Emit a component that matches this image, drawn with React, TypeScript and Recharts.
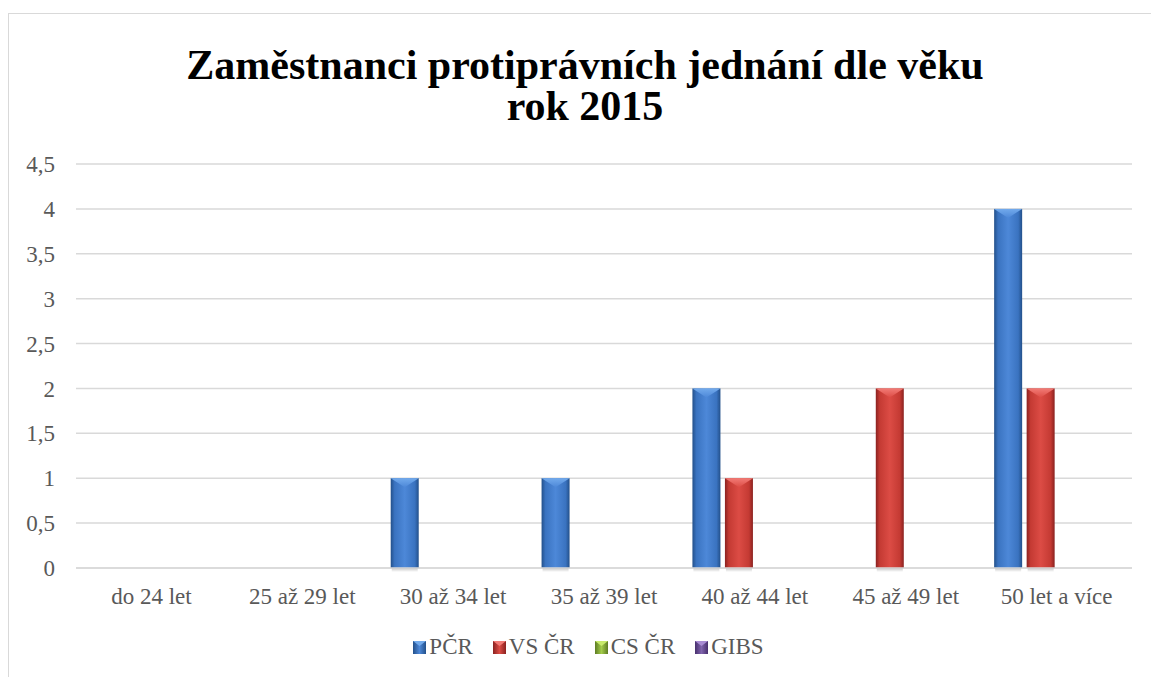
import React from "react";
import { BarChart, Bar, XAxis, YAxis, CartesianGrid, Legend } from "recharts";

const categories = [
  "do 24 let",
  "25 až 29 let",
  "30 až 34 let",
  "35 až 39 let",
  "40 až 44 let",
  "45 až 49 let",
  "50 let a více",
];
const pcr = [0, 0, 1, 1, 2, 0, 4];
const vsCr = [0, 0, 0, 0, 1, 2, 2];
const csCr = [0, 0, 0, 0, 0, 0, 0];
const gibs = [0, 0, 0, 0, 0, 0, 0];
const yTicks = [0, 0.5, 1, 1.5, 2, 2.5, 3, 3.5, 4, 4.5];

const data = categories.map((name, i) => ({
  name,
  pcr: pcr[i],
  vs: vsCr[i],
  cs: csCr[i],
  gibs: gibs[i],
}));

const FONT = '"Liberation Serif", "Times New Roman", serif';
const TEXT = "#595959";

const series = [
  { key: "pcr", name: "PČR", dark: "#23508a", mid: "#3a73c0", light: "#4d88d8", top: "#72aaec" },
  { key: "vs", name: "VS ČR", dark: "#8a2220", mid: "#c43a33", light: "#dc4c45", top: "#f27b76" },
  { key: "cs", name: "CS ČR", dark: "#5e7c24", mid: "#8cb43a", light: "#a3cc4a", top: "#c8ea6c" },
  { key: "gibs", name: "GIBS", dark: "#48306e", mid: "#6b4e96", light: "#8064ad", top: "#a98cd4" },
];

const Gradients = () => (
  <defs>
    {series.map((s) => (
      <React.Fragment key={s.key}>
        <linearGradient id={`side-${s.key}`} x1="0" y1="0" x2="1" y2="0">
          <stop offset="0" stopColor={s.dark} />
          <stop offset="0.14" stopColor={s.mid} />
          <stop offset="0.5" stopColor={s.light} />
          <stop offset="0.86" stopColor={s.mid} />
          <stop offset="1" stopColor={s.dark} />
        </linearGradient>
        <linearGradient id={`top-${s.key}`} x1="0" y1="0" x2="0" y2="1">
          <stop offset="0" stopColor={s.top} />
          <stop offset="1" stopColor={s.light} />
        </linearGradient>
      </React.Fragment>
    ))}
    <linearGradient id="shadow" x1="0" y1="0" x2="0" y2="1">
      <stop offset="0" stopColor="#000" stopOpacity="0.22" />
      <stop offset="1" stopColor="#000" stopOpacity="0" />
    </linearGradient>
  </defs>
);

const bevelShape = (key: string) => (props: any) => {
  const { x, y, width, height } = props;
  if (!height || height <= 0) return <g />;
  const depth = Math.min(9, height / 2);
  return (
    <g>
      <rect x={x + 1} y={y + height} width={width - 2} height={4} fill="url(#shadow)" />
      <rect x={x} y={y} width={width} height={height} fill={`url(#side-${key})`} />
      <polygon
        points={`${x},${y} ${x + width},${y} ${x + width / 2},${y + depth}`}
        fill={`url(#top-${key})`}
      />
    </g>
  );
};

const LegendSquare = ({ s }: { s: (typeof series)[number] }) => (
  <svg width={13} height={13} style={{ display: "block" }}>
    <defs>
      <linearGradient id={`lg-${s.key}`} x1="0" y1="0" x2="1" y2="0">
        <stop offset="0" stopColor={s.dark} />
        <stop offset="0.5" stopColor={s.light} />
        <stop offset="1" stopColor={s.dark} />
      </linearGradient>
    </defs>
    <rect x={0} y={0} width={13} height={13} fill={`url(#lg-${s.key})`} />
    <polygon points="0,0 13,0 6.5,5" fill={s.top} />
  </svg>
);

const renderLegend = () => (
  <div
    style={{
      display: "flex",
      justifyContent: "center",
      alignItems: "center",
      gap: 20,
      fontFamily: FONT,
      fontSize: 23,
      lineHeight: "26px",
      color: TEXT,
    }}
  >
    {series.map((s) => (
      <div key={s.key} style={{ display: "flex", alignItems: "center" }}>
        <LegendSquare s={s} />
        <span style={{ marginLeft: 3 }}>{s.name}</span>
      </div>
    ))}
  </div>
);

export default function App() {
  return (
    <div
      style={{
        position: "fixed",
        left: 0,
        top: 0,
        width: 1151,
        height: 677,
        overflow: "hidden",
        background: "#fff",
      }}
    >
      <div
        style={{
          position: "absolute",
          left: 8,
          top: 13,
          width: 1200,
          height: 700,
          borderLeft: "1px solid #d9d9d9",
          borderTop: "1px solid #d9d9d9",
        }}
      />
      <div
        style={{
          position: "absolute",
          left: 0,
          top: 45,
          width: 1170,
          textAlign: "center",
          fontFamily: FONT,
          fontWeight: "bold",
          fontSize: 42,
          lineHeight: "41px",
          color: "#000",
        }}
      >
        Zaměstnanci protiprávních jednání dle věku
        <br />
        rok 2015
      </div>
      <div style={{ position: "absolute", left: 0, top: 0 }}>
        <BarChart
          width={1151}
          height={677}
          data={data}
          margin={{ top: 164, right: 19, bottom: 69, left: 0 }}
          barSize={28}
          barGap={4.5}
        >
          <Gradients />
          <CartesianGrid vertical={false} stroke="#d9d9d9" strokeWidth={1.5} />
          <XAxis
            dataKey="name"
            interval={0}
            height={40}
            tickLine={false}
            axisLine={{ stroke: "#d9d9d9", strokeWidth: 1.5 }}
            tickSize={0}
            tickMargin={20}
            tick={{ fill: TEXT, fontSize: 23, fontFamily: FONT }}
          />
          <YAxis
            width={76}
            domain={[0, 4.5]}
            ticks={yTicks}
            interval={0}
            tickLine={false}
            axisLine={false}
            tickSize={0}
            tickMargin={21}
            tickFormatter={(v: number) => String(v).replace(".", ",")}
            tick={{ fill: TEXT, fontSize: 23, fontFamily: FONT }}
          />
          <Legend
            verticalAlign="middle"
            align="center"
            layout="horizontal"
            content={renderLegend}
            wrapperStyle={{ left: 0, top: 634, width: 1177 }}
          />
          {series.map((s) => (
            <Bar
              key={s.key}
              dataKey={s.key}
              name={s.name}
              fill={s.mid}
              shape={bevelShape(s.key)}
              isAnimationActive={false}
            />
          ))}
        </BarChart>
      </div>
    </div>
  );
}
